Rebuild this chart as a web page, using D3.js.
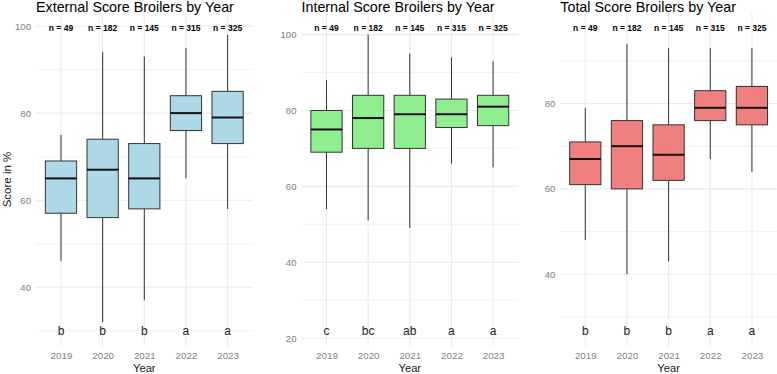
<!DOCTYPE html>
<html>
<head>
<meta charset="utf-8">
<script src="https://cdn.jsdelivr.net/npm/d3@7"></script>
<style>
  html, body { margin: 0; padding: 0; background: #fff; }
  svg { display: block; font-family: "Liberation Sans", Arial, sans-serif; }
</style>
</head>
<body>
<div id="chart"></div>
<script>
const years = ["2019", "2020", "2021", "2022", "2023"];
const counts = [49, 182, 145, 315, 325];

// [lower whisker, Q1, median, Q3, upper whisker]
const externalBoxes = [[46, 57, 65, 69, 75], [32, 56, 67, 74, 94], [37, 58, 65, 73, 93], [65, 76, 80, 84, 95], [58, 73, 79, 85, 98]];
const internalBoxes = [[54, 69, 75, 80, 88], [51, 70, 78, 84, 100], [49, 70, 79, 84, 95], [66, 75.5, 79, 83, 94], [65, 76, 81, 84, 93]];
const totalBoxes = [[48, 61, 67, 71, 79], [40, 60, 70, 76, 94], [43, 62, 68, 75, 93], [67, 76, 79, 83, 93], [64, 75, 79, 84, 93]];

const externalLetters = ["b", "b", "b", "a", "a"];
const internalLetters = ["c", "bc", "ab", "a", "a"];
const totalLetters = ["b", "b", "b", "a", "a"];

const externalTicks = [40, 60, 80, 100];
const internalTicks = [20, 40, 60, 80, 100];
const totalTicks = [40, 60, 80];
const minorTicks = [30, 50, 70, 90];

const width = 777, height = 374;
const plotTop = 13, plotBottom = 346, plotWidth = 216.6;

const panels = [
    {title: "External Score Broilers by Year", boxes: externalBoxes, letters: externalLetters, ticks: externalTicks,
     domain: [26.5, 103], nAt: 99.5, letterAt: 30, fill: "#ADD8E6", left: 36, yTitle: "Score in %"},
    {title: "Internal Score Broilers by Year", boxes: internalBoxes, letters: internalLetters, ticks: internalTicks,
     domain: [17.9, 105.7], nAt: 101.7, letterAt: 21.9, fill: "#90EE90", left: 301.5},
    {title: "Total Score Broilers by Year", boxes: totalBoxes, letters: totalLetters, ticks: totalTicks,
     domain: [23.2, 101.2], nAt: 97.6, letterAt: 26.7, fill: "#F08080", left: 560.3}
];

const svg = d3.select("#chart")
    .append("svg")
    .attr("width", width)
    .attr("height", height);

panels.forEach(p => {
    const x = d3.scalePoint()
        .domain(years)
        .range([p.left, p.left + plotWidth])
        .padding(0.6);
    const y = d3.scaleLinear()
        .domain(p.domain)
        .range([plotBottom, plotTop]);
    const boxW = x.step() * 0.75;

    const g = svg.append("g");

    // grid
    g.selectAll(".minor")
        .data(minorTicks.filter(t => t > p.domain[0] && t < p.domain[1]))
        .enter().append("line")
        .attr("x1", p.left).attr("x2", p.left + plotWidth)
        .attr("y1", d => y(d)).attr("y2", d => y(d))
        .attr("stroke", "#EBEBEB").attr("stroke-width", 0.6);

    g.selectAll(".major")
        .data(p.ticks)
        .enter().append("line")
        .attr("x1", p.left).attr("x2", p.left + plotWidth)
        .attr("y1", d => y(d)).attr("y2", d => y(d))
        .attr("stroke", "#EBEBEB").attr("stroke-width", 1.1);

    g.selectAll(".vgrid")
        .data(years)
        .enter().append("line")
        .attr("x1", d => x(d)).attr("x2", d => x(d))
        .attr("y1", plotTop).attr("y2", plotBottom)
        .attr("stroke", "#EBEBEB").attr("stroke-width", 1.1);

    // axes text
    const yAxis = g.append("g")
        .attr("transform", `translate(${p.left},0)`)
        .call(d3.axisLeft(y).tickValues(p.ticks).tickSize(0).tickPadding(5));
    yAxis.select(".domain").remove();
    yAxis.selectAll("text")
        .style("font-size", "9.6px")
        .style("font-family", "Liberation Sans, Arial, sans-serif")
        .attr("fill", "#7F7F7F");

    const xAxis = g.append("g")
        .attr("transform", `translate(0,${plotBottom})`)
        .call(d3.axisBottom(x).tickSize(0).tickPadding(6));
    xAxis.select(".domain").remove();
    xAxis.selectAll("text")
        .style("font-size", "9.8px")
        .style("font-family", "Liberation Sans, Arial, sans-serif")
        .attr("fill", "#7F7F7F");

    g.append("text")
        .attr("x", p.left + plotWidth / 2)
        .attr("y", 372)
        .attr("text-anchor", "middle")
        .style("font-size", "11.2px")
        .attr("fill", "#1a1a1a")
        .text("Year");

    if (p.yTitle) {
        g.append("text")
            .attr("transform", `translate(11,${(plotTop + plotBottom) / 2}) rotate(-90)`)
            .attr("text-anchor", "middle")
            .style("font-size", "11.5px")
            .attr("fill", "#1a1a1a")
            .text(p.yTitle);
    }

    g.append("text")
        .attr("x", p.left)
        .attr("y", 12)
        .style("font-size", "14.3px")
        .attr("fill", "#000")
        .text(p.title);

    // boxes
    const box = g.selectAll(".box")
        .data(p.boxes)
        .enter().append("g")
        .attr("class", "box");

    box.append("line")
        .attr("x1", (d, i) => x(years[i])).attr("x2", (d, i) => x(years[i]))
        .attr("y1", d => y(d[0])).attr("y2", d => y(d[1]))
        .attr("stroke", "#333").attr("stroke-width", 1);
    box.append("line")
        .attr("x1", (d, i) => x(years[i])).attr("x2", (d, i) => x(years[i]))
        .attr("y1", d => y(d[3])).attr("y2", d => y(d[4]))
        .attr("stroke", "#333").attr("stroke-width", 1);
    box.append("rect")
        .attr("x", (d, i) => x(years[i]) - boxW / 2)
        .attr("width", boxW)
        .attr("y", d => y(d[3]))
        .attr("height", d => y(d[1]) - y(d[3]))
        .attr("fill", p.fill)
        .attr("stroke", "#333").attr("stroke-width", 1);
    box.append("line")
        .attr("x1", (d, i) => x(years[i]) - boxW / 2).attr("x2", (d, i) => x(years[i]) + boxW / 2)
        .attr("y1", d => y(d[2])).attr("y2", d => y(d[2]))
        .attr("stroke", "#111").attr("stroke-width", 2);

    // n labels and letters
    g.selectAll(".nlab")
        .data(counts)
        .enter().append("text")
        .attr("x", (d, i) => x(years[i]))
        .attr("y", y(p.nAt))
        .attr("dy", "0.35em")
        .attr("text-anchor", "middle")
        .style("font-size", "8.5px")
        .style("font-weight", "bold")
        .attr("fill", "#000")
        .text(d => `n = ${d}`);

    g.selectAll(".letter")
        .data(p.letters)
        .enter().append("text")
        .attr("x", (d, i) => x(years[i]))
        .attr("y", y(p.letterAt))
        .attr("dy", "0.35em")
        .attr("text-anchor", "middle")
        .style("font-size", "12px")
        .attr("fill", "#222")
        .text(d => d);
});
</script>
</body>
</html>
